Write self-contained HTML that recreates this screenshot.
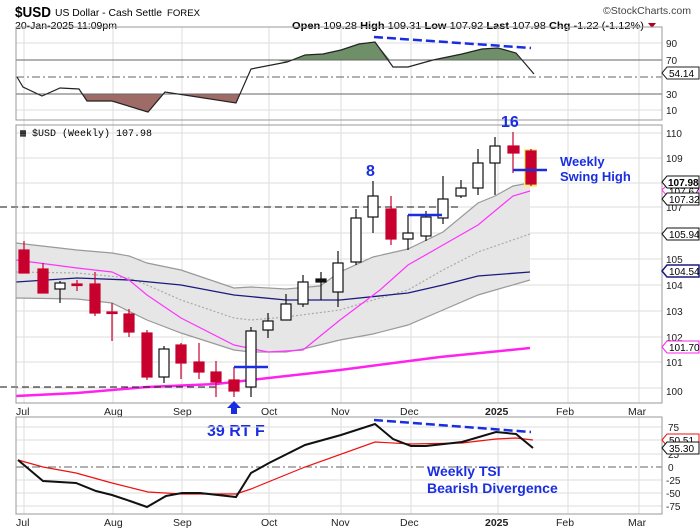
<!DOCTYPE html>
<html><head><meta charset="utf-8"><style>
body{margin:0;background:#fff}
svg{display:block;font-family:"Liberation Sans",sans-serif}
</style></head><body>
<svg width="700" height="530" viewBox="0 0 700 530" xmlns="http://www.w3.org/2000/svg">
<!-- header -->
<text x="15" y="17" font-size="15" font-weight="bold" textLength="36" lengthAdjust="spacingAndGlyphs">$USD</text>
<text x="55" y="16" font-size="10.5" textLength="107" lengthAdjust="spacingAndGlyphs">US Dollar - Cash Settle</text>
<text x="167" y="16" font-size="9.5" textLength="33" lengthAdjust="spacingAndGlyphs">FOREX</text>
<text x="15" y="29" font-size="10" textLength="102" lengthAdjust="spacingAndGlyphs">20-Jan-2025 11:09pm</text>
<text x="603" y="14" font-size="10.5" fill="#444" textLength="88" lengthAdjust="spacingAndGlyphs">©StockCharts.com</text>
<text x="292" y="29" font-size="10.5" textLength="352" lengthAdjust="spacingAndGlyphs"><tspan font-weight="bold">Open</tspan> 109.28 <tspan font-weight="bold">High</tspan> 109.31 <tspan font-weight="bold">Low</tspan> 107.92 <tspan font-weight="bold">Last</tspan> 107.98 <tspan font-weight="bold">Chg</tspan> -1.22 (-1.12%)</text>
<polygon points="648,23 656,23 652,28" fill="#b00020"/>

<!-- vertical grid -->
<g stroke="#ddd" stroke-width="1">
<line x1="24" y1="27" x2="24" y2="403"/><line x1="113" y1="27" x2="113" y2="403"/><line x1="182" y1="27" x2="182" y2="403"/><line x1="269" y1="27" x2="269" y2="403"/><line x1="341" y1="27" x2="341" y2="403"/><line x1="411" y1="27" x2="411" y2="403"/><line x1="498" y1="27" x2="498" y2="403"/><line x1="568" y1="27" x2="568" y2="403"/><line x1="639" y1="27" x2="639" y2="403"/>
<line x1="24" y1="417" x2="24" y2="514"/><line x1="113" y1="417" x2="113" y2="514"/><line x1="182" y1="417" x2="182" y2="514"/><line x1="269" y1="417" x2="269" y2="514"/><line x1="341" y1="417" x2="341" y2="514"/><line x1="411" y1="417" x2="411" y2="514"/><line x1="498" y1="417" x2="498" y2="514"/><line x1="568" y1="417" x2="568" y2="514"/><line x1="639" y1="417" x2="639" y2="514"/>
</g>

<!-- RSI panel -->
<g stroke="#ddd"><line x1="16" y1="43" x2="662" y2="43"/><line x1="16" y1="110" x2="662" y2="110"/></g>
<polygon points="275,60 287,62 305,55 323,54 341,50 359,44 375,42 390,60" fill="#6f8f68"/>
<polygon points="426,60 433,60 462,54 482,49 498,48 516,53 521,60" fill="#6f8f68"/>
<polygon points="83,94 87,101 112,101 148,112 163,94" fill="#9e6b66"/>
<polygon points="177,94 236,103 240,94" fill="#9e6b66"/>
<line x1="16" y1="60" x2="662" y2="60" stroke="#666"/>
<line x1="16" y1="94" x2="662" y2="94" stroke="#666"/>
<line x1="16" y1="77" x2="662" y2="77" stroke="#666" stroke-dasharray="8,3,2,3"/>
<polyline fill="none" stroke="#222" stroke-width="1.2" points="17,77 23,87 42,96 60,88 79,89 87,101 112,101 148,112 165,92 236,103 251,69 287,62 305,55 323,54 341,50 359,44 375,42 393,67 408,67 433,60 462,54 482,49 498,48 516,53 534,74"/>
<line x1="374" y1="37" x2="531" y2="48" stroke="#1a2ee0" stroke-width="2.5" stroke-dasharray="9,4"/>
<rect x="16" y="27" width="646" height="93" fill="none" stroke="#999"/>
<g font-size="10" fill="#222"><text x="666" y="47">90</text><text x="666" y="64">70</text><text x="666" y="98">30</text><text x="666" y="114">10</text></g>
<polygon points="662,73 667,67 699,67 699,79 667,79" fill="#fff" stroke="#222"/><text x="669" y="77" font-size="10">54.14</text>

<!-- main panel -->
<g stroke="#ddd"><line x1="16" y1="133" x2="662" y2="133"/><line x1="16" y1="158" x2="662" y2="158"/><line x1="16" y1="183" x2="662" y2="183"/><line x1="16" y1="207" x2="662" y2="207"/><line x1="16" y1="233" x2="662" y2="233"/><line x1="16" y1="259" x2="662" y2="259"/><line x1="16" y1="285" x2="662" y2="285"/><line x1="16" y1="311" x2="662" y2="311"/><line x1="16" y1="337" x2="662" y2="337"/><line x1="16" y1="362" x2="662" y2="362"/><line x1="16" y1="388" x2="662" y2="388"/></g>
<polygon fill="#e6e6e6" points="16,243 77,250 112,253 129,256 147,263 181,270 234,288 251,287 286,289 320,286 340,272 373,257 408,249 443,232 478,203 495,196 513,186 530,183 530,280 478,295 443,310 408,325 373,334 340,340 303,349 286,352 251,352 234,350 181,333 147,320 112,303 77,299 16,298"/>
<polyline fill="none" stroke="#999" stroke-width="1.2" points="16,243 77,250 112,253 129,256 147,263 181,270 234,288 251,287 286,289 320,286 340,272 373,257 408,249 443,232 478,203 495,196 513,186 530,183"/>
<polyline fill="none" stroke="#999" stroke-width="1.2" points="530,280 478,295 443,310 408,325 373,334 340,340 303,349 286,352 251,352 234,350 181,333 147,320 112,303 77,299 16,298"/>
<polyline fill="none" stroke="#aaa" stroke-width="1.2" stroke-dasharray="2,2" points="16,272 77,273 129,278 147,285 181,300 234,318 251,320 286,317 340,310 373,300 408,290 443,270 478,252 530,234"/>
<polyline fill="none" stroke="#1a1a80" stroke-width="1.3" points="16,282 77,278 129,280 181,285 234,295 286,300 340,300 408,293 443,285 478,276 530,272"/>
<polyline fill="none" stroke="#ff33ff" stroke-width="1.2" points="16,260 77,268 112,272 129,280 147,295 181,318 234,345 268,352 303,350 340,320 380,290 408,265 443,245 478,225 513,196 530,191"/>
<polyline fill="none" stroke="#ff22ee" stroke-width="2.5" points="16,396 77,393 147,387 216,384 251,380 340,370 440,357 530,348"/>
<line x1="0" y1="207" x2="459" y2="207" stroke="#111" stroke-dasharray="7,4"/>
<line x1="0" y1="387" x2="217" y2="387" stroke="#111" stroke-dasharray="7,4"/>
<rect x="524" y="149" width="13" height="38" fill="#f5f07a"/>
<!-- candles -->
<g stroke-width="1.2">
<g stroke="#c8002e" fill="#c8002e">
<line x1="24" y1="241" x2="24" y2="273"/><rect x="19" y="250" width="10" height="23"/>
<line x1="43" y1="263" x2="43" y2="293"/><rect x="38" y="269" width="10" height="24"/>
<line x1="77" y1="280" x2="77" y2="291"/><rect x="72" y="284" width="10" height="1.5"/>
<line x1="95" y1="272" x2="95" y2="316"/><rect x="90" y="284" width="10" height="29"/>
<line x1="112" y1="303" x2="112" y2="341"/><rect x="107" y="312" width="10" height="1.5"/>
<line x1="129" y1="309" x2="129" y2="337"/><rect x="124" y="314" width="10" height="18"/>
<line x1="147" y1="330" x2="147" y2="380"/><rect x="142" y="333" width="10" height="44"/>
<line x1="181" y1="343" x2="181" y2="379"/><rect x="176" y="345" width="10" height="18"/>
<line x1="199" y1="343" x2="199" y2="379"/><rect x="194" y="362" width="10" height="10"/>
<line x1="216" y1="361" x2="216" y2="397"/><rect x="211" y="372" width="10" height="10"/>
<line x1="234" y1="367" x2="234" y2="397"/><rect x="229" y="380" width="10" height="11"/>
<line x1="391" y1="196" x2="391" y2="245"/><rect x="386" y="209" width="10" height="30"/>
<line x1="513" y1="132" x2="513" y2="173"/><rect x="508" y="146" width="11" height="7"/>
<line x1="531" y1="149" x2="531" y2="186"/><rect x="526" y="151" width="10" height="33"/>
</g>
<g stroke="#111" fill="#fff">
<line x1="60" y1="281" x2="60" y2="303"/><rect x="55" y="283" width="10" height="6"/>
<line x1="164" y1="346" x2="164" y2="383"/><rect x="159" y="349" width="10" height="28"/>
<line x1="251" y1="327" x2="251" y2="397"/><rect x="246" y="331" width="10" height="56"/>
<line x1="268" y1="313" x2="268" y2="338"/><rect x="263" y="321" width="10" height="9"/>
<line x1="286" y1="294" x2="286" y2="320"/><rect x="281" y="304" width="10" height="16"/>
<line x1="303" y1="275" x2="303" y2="307"/><rect x="298" y="282" width="10" height="22"/>
<line x1="321" y1="272" x2="321" y2="300"/><rect x="316" y="279" width="10" height="3" fill="#111"/>
<line x1="338" y1="251" x2="338" y2="307"/><rect x="333" y="263" width="10" height="29"/>
<line x1="356" y1="209" x2="356" y2="265"/><rect x="351" y="218" width="10" height="44"/>
<line x1="373" y1="181" x2="373" y2="233"/><rect x="368" y="196" width="10" height="21"/>
<line x1="408" y1="215" x2="408" y2="250"/><rect x="403" y="233" width="10" height="6"/>
<line x1="426" y1="211" x2="426" y2="241"/><rect x="421" y="217" width="10" height="19"/>
<line x1="443" y1="176" x2="443" y2="224"/><rect x="438" y="199" width="10" height="19"/>
<line x1="461" y1="180" x2="461" y2="198"/><rect x="456" y="188" width="10" height="8"/>
<line x1="478" y1="149" x2="478" y2="195"/><rect x="473" y="163" width="10" height="25"/>
<line x1="495" y1="137" x2="495" y2="195"/><rect x="490" y="146" width="10" height="17"/>
</g></g>
<g stroke="#1a2ee0" stroke-width="2.5"><line x1="513" y1="170" x2="547" y2="170"/><line x1="408" y1="215" x2="442" y2="215"/><line x1="234" y1="367" x2="268" y2="367"/></g>
<rect x="16" y="125" width="646" height="278" fill="none" stroke="#999"/>
<text x="20" y="136" font-size="10" font-family="Liberation Mono,monospace">▦ $USD (Weekly) 107.98</text>
<g fill="#1a2ee0" font-weight="bold"><text x="366" y="176" font-size="16">8</text><text x="501" y="127" font-size="16">16</text><text x="560" y="166" font-size="13">Weekly</text><text x="560" y="181" font-size="13">Swing High</text></g>
<g font-size="10" fill="#222"><text x="666" y="137">110</text><text x="666" y="162">109</text><text x="666" y="211">107</text><text x="666" y="263">105</text><text x="666" y="289">104</text><text x="666" y="315">103</text><text x="666" y="341">102</text><text x="666" y="366">101</text><text x="666" y="395">100</text></g>
<g font-size="10">
<polygon points="662,190 667,185 699,185 699,196 667,196" fill="#fff" stroke="#ff33ff"/><text x="669" y="195">107.67</text>
<polygon points="662,182 667,176 699,176 699,188 667,188" fill="#fff" stroke="#111"/><text x="668" y="186" font-weight="bold">107.98</text>
<polygon points="662,199 667,193 699,193 699,205 667,205" fill="#fff" stroke="#111"/><text x="669" y="203">107.32</text>
<polygon points="662,234 667,228 699,228 699,240 667,240" fill="#fff" stroke="#111"/><text x="669" y="238">105.94</text>
<polygon points="662,271 667,265 699,265 699,277 667,277" fill="#fff" stroke="#1a1a80" stroke-width="1.5"/><text x="669" y="275">104.54</text>
<polygon points="662,347 667,341 699,341 699,353 667,353" fill="#fff" stroke="#ff22ee"/><text x="669" y="351">101.70</text>
</g>
<!-- x labels -->
<g font-size="10.5" fill="#222"><text x="16" y="415">Jul</text><text x="104" y="415">Aug</text><text x="173" y="415">Sep</text><text x="261" y="415">Oct</text><text x="331" y="415">Nov</text><text x="400" y="415">Dec</text><text x="485" y="415" font-weight="bold">2025</text><text x="556" y="415">Feb</text><text x="628" y="415">Mar</text></g>
<g font-size="10.5" fill="#222"><text x="16" y="526">Jul</text><text x="104" y="526">Aug</text><text x="173" y="526">Sep</text><text x="261" y="526">Oct</text><text x="331" y="526">Nov</text><text x="400" y="526">Dec</text><text x="485" y="526" font-weight="bold">2025</text><text x="556" y="526">Feb</text><text x="628" y="526">Mar</text></g>
<polygon points="234,401 241,408 237,408 237,414 231,414 231,408 227,408" fill="#1a2ee0"/>
<text x="207" y="436" font-size="16" font-weight="bold" fill="#1a2ee0">39 RT F</text>

<!-- TSI panel -->
<g stroke="#ddd"><line x1="16" y1="427" x2="662" y2="427"/><line x1="16" y1="440" x2="662" y2="440"/><line x1="16" y1="454" x2="662" y2="454"/><line x1="16" y1="480" x2="662" y2="480"/><line x1="16" y1="493" x2="662" y2="493"/><line x1="16" y1="506" x2="662" y2="506"/></g>
<line x1="16" y1="467" x2="662" y2="467" stroke="#666" stroke-dasharray="8,3,2,3"/>
<polyline fill="none" stroke="#ee1111" stroke-width="1.2" points="18,460 43,467 76,473 112,483 148,492 182,494 236,494 251,489 305,467 375,442 411,444 462,443 496,439 516,438 533,440"/>
<polyline fill="none" stroke="#111" stroke-width="2" points="18,460 43,481 76,483 96,491 112,495 130,501 147,507 166,496 182,493 200,493 236,497 251,473 269,463 305,445 341,435 375,424 393,439 411,446 426,446 462,442 496,432 516,434 533,448"/>
<line x1="374" y1="420" x2="531" y2="432" stroke="#1a2ee0" stroke-width="2.5" stroke-dasharray="9,4"/>
<rect x="16" y="417" width="646" height="97" fill="none" stroke="#999"/>
<g fill="#1a2ee0" font-weight="bold" font-size="14"><text x="427" y="476">Weekly TSI</text><text x="427" y="493">Bearish Divergence</text></g>
<g font-size="10" fill="#222"><text x="668" y="431">75</text><text x="668" y="458">25</text><text x="668" y="471">0</text><text x="666" y="484">-25</text><text x="666" y="497">-50</text><text x="666" y="510">-75</text></g>
<g font-size="10">
<polygon points="662,440 667,434 699,434 699,446 667,446" fill="#fff" stroke="#ee1111"/><text x="669" y="444">50.51</text>
<polygon points="662,448 667,442 699,442 699,454 667,454" fill="#fff" stroke="#111"/><text x="669" y="452">35.30</text>
</g>
</svg>
</body></html>
